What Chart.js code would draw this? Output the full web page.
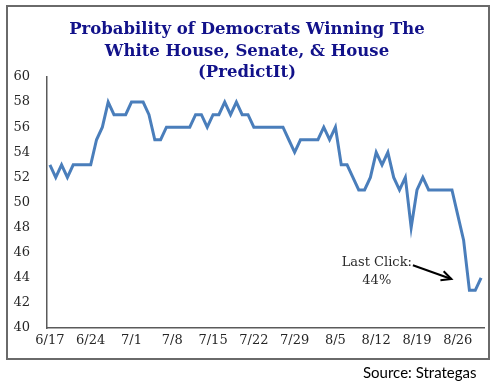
<!DOCTYPE html>
<html>
<head>
<meta charset="utf-8">
<script src="https://cdn.jsdelivr.net/npm/chart.js@4.4.0/dist/chart.umd.min.js"></script>
<style>
  html, body { margin: 0; padding: 0; background: #fff; }
  #wrap { position: relative; width: 499px; height: 392px; }
  #frame { position: absolute; left: 6px; top: 5px; width: 480px; height: 351px; border: 2px solid #6a6a6a; pointer-events: none; }
  #source { position: absolute; left: 363px; top: 363px; font: 15px Lato, "Open Sans", sans-serif; color: #000; }
</style>
</head>
<body>
<div id="wrap">
  <canvas id="chart" width="499" height="392"></canvas>
  <div id="frame"></div>
  <div id="source">Source: Strategas</div>
</div>
<script>
// Daily dates 6/17 .. 8/30
const dates = [
  '6/17','6/18','6/19','6/20','6/21','6/22','6/23','6/24','6/25','6/26','6/27','6/28','6/29','6/30',
  '7/1','7/2','7/3','7/4','7/5','7/6','7/7','7/8','7/9','7/10','7/11','7/12','7/13','7/14','7/15','7/16',
  '7/17','7/18','7/19','7/20','7/21','7/22','7/23','7/24','7/25','7/26','7/27','7/28','7/29','7/30','7/31',
  '8/1','8/2','8/3','8/4','8/5','8/6','8/7','8/8','8/9','8/10','8/11','8/12','8/13','8/14','8/15',
  '8/16','8/17','8/18','8/19','8/20','8/21','8/22','8/23','8/24','8/25','8/26','8/27','8/28','8/29','8/30'
];

// Probability (%) of Democrats winning all three
const probability = [
  53, 52, 53, 52, 53, 53, 53, 53, 55, 56, 58, 57, 57, 57,
  58, 58, 58, 57, 55, 55, 56, 56, 56, 56, 56, 57, 57, 56, 57, 57,
  58, 57, 58, 57, 57, 56, 56, 56, 56, 56, 56, 55, 54, 55, 55,
  55, 55, 56, 55, 56, 53, 53, 52, 51, 51, 52, 54, 53, 54, 52,
  51, 52, 48, 51, 52, 51, 51, 51, 51, 51, 49, 47, 43, 43, 44
];

// Labels shown on the x axis (weekly)
const tickLabels = ['6/17','6/24','7/1','7/8','7/15','7/22','7/29','8/5','8/12','8/19','8/26'];

const titleLines = ['Probability of Democrats Winning The', 'White House, Senate, & House', '(PredictIt)'];
const noteLines = ['Last Click:', '44%'];

const axisColor = '#5a5a5a';
const tickFont = { family: '"DejaVu Serif", serif', size: 13 };

// Title and "Last Click" note, drawn on top
const extrasPlugin = {
    id: 'extras',
    afterDraw(chart) {
        const ctx = chart.ctx;
        const xs = chart.scales.x;
        const ys = chart.scales.y;
        ctx.save();

        // title
        ctx.fillStyle = '#12128a';
        ctx.font = 'bold 16.5px "DejaVu Serif", serif';
        ctx.textAlign = 'center';
        ctx.textBaseline = 'alphabetic';
        const baselines = [34, 56, 77];
        titleLines.forEach((t, i) => ctx.fillText(t, 247, baselines[i]));

        // note text, placed in data units
        ctx.fillStyle = '#2a2a2a';
        ctx.font = '13px "DejaVu Serif", serif';
        ctx.textBaseline = 'middle';
        const nx = xs.getPixelForValue(56.1);
        ctx.fillText(noteLines[0], nx, ys.getPixelForValue(45.2));
        ctx.fillText(noteLines[1], nx, ys.getPixelForValue(43.8));

        // arrow
        const x1 = xs.getPixelForValue(62.3), y1 = ys.getPixelForValue(45.0);
        const x2 = xs.getPixelForValue(68.9), y2 = ys.getPixelForValue(43.9);
        ctx.strokeStyle = '#000';
        ctx.lineWidth = 2;
        ctx.beginPath();
        ctx.moveTo(x1, y1);
        ctx.lineTo(x2, y2);
        ctx.stroke();
        const a = Math.atan2(y2 - y1, x2 - x1);
        const len = 11;
        ctx.beginPath();
        ctx.moveTo(x2 - len * Math.cos(a - 0.45), y2 - len * Math.sin(a - 0.45));
        ctx.lineTo(x2, y2);
        ctx.lineTo(x2 - len * Math.cos(a + 0.45), y2 - len * Math.sin(a + 0.45));
        ctx.stroke();
        ctx.restore();
    }
};

const ctx = document.getElementById('chart').getContext('2d');
new Chart(ctx, {
    type: 'line',
    data: {
        labels: dates,
        datasets: [{
            data: probability,
            borderColor: '#4a7ebb',
            borderWidth: 3,
            pointRadius: 0,
            tension: 0,
            fill: false
        }]
    },
    options: {
        responsive: false,
        animation: false,
        layout: { padding: { top: 77, right: 15, bottom: 44, left: 0 } },
        plugins: {
            legend: { display: false },
            title: { display: false },
            tooltip: { enabled: false }
        },
        scales: {
            x: {
                offset: true,
                grid: { display: false, drawTicks: false },
                border: { display: true, color: axisColor, width: 1.5 },
                ticks: {
                    autoSkip: false,
                    maxRotation: 0,
                    padding: 5,
                    color: '#262626',
                    font: tickFont,
                    callback: function (value) {
                        const lab = this.getLabelForValue(value);
                        return tickLabels.includes(lab) ? lab : '';
                    }
                },
                afterFit(scale) { scale.height = 20; }
            },
            y: {
                min: 40,
                max: 60,
                grid: { display: false, drawTicks: false },
                border: { display: true, color: axisColor, width: 1.5 },
                ticks: {
                    stepSize: 2,
                    padding: 17,
                    color: '#262626',
                    font: tickFont
                },
                afterFit(scale) { scale.width = 47; }
            }
        }
    },
    plugins: [extrasPlugin]
});
</script>
</body>
</html>
